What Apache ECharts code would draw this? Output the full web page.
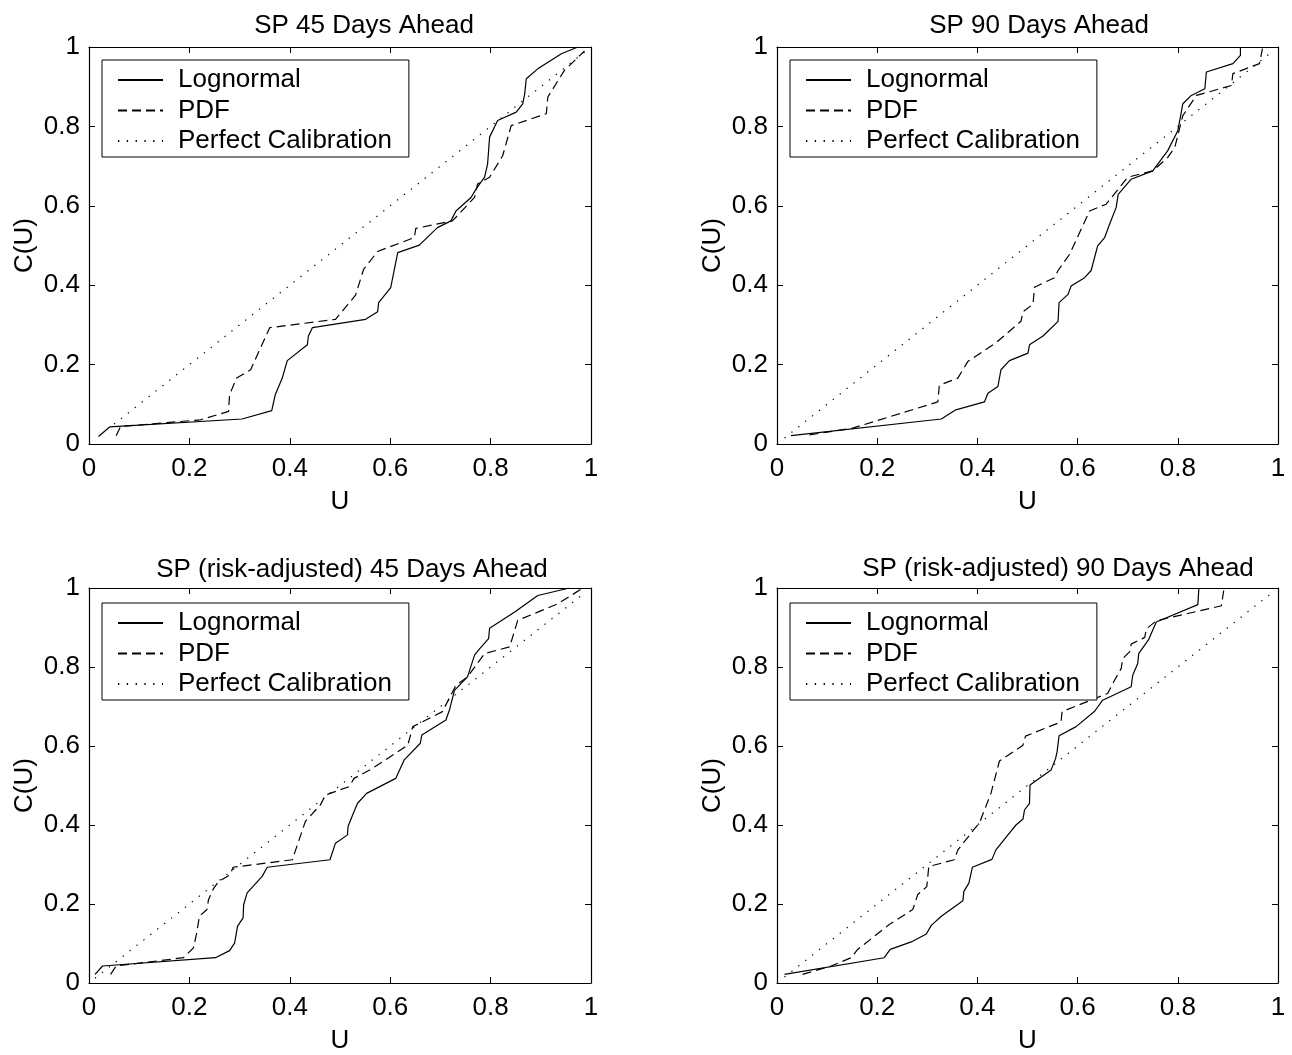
<!DOCTYPE html>
<html><head><meta charset="utf-8">
<script src="https://cdn.jsdelivr.net/npm/echarts/dist/echarts.min.js"></script>
<style>html,body{margin:0;padding:0;background:#fff}#c{width:1292px;height:1055px}</style>
</head><body><div id="c"></div>
<script>
const titles = ['SP 45 Days Ahead', 'SP 90 Days Ahead', 'SP (risk-adjusted) 45 Days Ahead', 'SP (risk-adjusted) 90 Days Ahead'];
const seriesNames = ['Lognormal', 'PDF', 'Perfect Calibration'];
const xAxisName = 'U';
const yAxisName = 'C(U)';
const tickStep = 0.2;

const lognormal45 = [[0.019,0.019],[0.041,0.043],[0.305,0.063],[0.364,0.084],[0.371,0.124],[0.385,0.166],[0.395,0.21],[0.435,0.25],[0.437,0.272],[0.445,0.293],[0.551,0.314],[0.575,0.333],[0.577,0.356],[0.601,0.394],[0.615,0.482],[0.658,0.501],[0.694,0.545],[0.721,0.562],[0.731,0.587],[0.761,0.621],[0.771,0.642],[0.788,0.672],[0.794,0.705],[0.798,0.773],[0.814,0.815],[0.851,0.836],[0.864,0.857],[0.868,0.882],[0.871,0.92],[0.894,0.945],[0.941,0.983],[0.974,1.0]];
const pdf45 = [[0.054,0.021],[0.063,0.044],[0.222,0.061],[0.278,0.082],[0.280,0.124],[0.294,0.166],[0.322,0.187],[0.360,0.293],[0.491,0.314],[0.531,0.375],[0.547,0.44],[0.575,0.485],[0.648,0.52],[0.651,0.543],[0.724,0.562],[0.768,0.621],[0.774,0.655],[0.798,0.672],[0.824,0.726],[0.841,0.802],[0.911,0.832],[0.914,0.874],[0.947,0.941],[0.987,0.99]];
const perfect45 = [[0.05,0.05],[0.99,0.99]];

const lognormal90 = [[0.028,0.021],[0.328,0.063],[0.357,0.086],[0.414,0.106],[0.421,0.128],[0.441,0.145],[0.447,0.187],[0.464,0.21],[0.501,0.229],[0.504,0.25],[0.531,0.272],[0.561,0.309],[0.563,0.356],[0.581,0.377],[0.587,0.398],[0.614,0.419],[0.627,0.437],[0.640,0.499],[0.654,0.52],[0.664,0.554],[0.677,0.596],[0.681,0.629],[0.707,0.667],[0.750,0.688],[0.780,0.739],[0.800,0.789],[0.810,0.857],[0.827,0.878],[0.854,0.895],[0.857,0.937],[0.910,0.958],[0.925,0.979],[0.925,1.0]];
const pdf90 = [[0.065,0.023],[0.151,0.04],[0.321,0.106],[0.324,0.148],[0.361,0.166],[0.381,0.208],[0.437,0.255],[0.487,0.309],[0.491,0.333],[0.511,0.352],[0.514,0.395],[0.554,0.419],[0.561,0.437],[0.584,0.478],[0.624,0.587],[0.657,0.604],[0.700,0.672],[0.750,0.688],[0.780,0.722],[0.794,0.747],[0.810,0.827],[0.837,0.878],[0.907,0.903],[0.910,0.933],[0.963,0.958],[0.969,0.996]];
const perfect90 = [[0.015,0.015],[0.983,0.983]];

const lognormalRA45 = [[0.012,0.022],[0.027,0.043],[0.252,0.064],[0.280,0.082],[0.290,0.101],[0.296,0.144],[0.307,0.165],[0.308,0.198],[0.315,0.228],[0.345,0.27],[0.355,0.293],[0.480,0.312],[0.491,0.354],[0.515,0.375],[0.516,0.396],[0.528,0.434],[0.535,0.455],[0.553,0.48],[0.611,0.518],[0.628,0.565],[0.660,0.607],[0.663,0.628],[0.711,0.666],[0.718,0.691],[0.728,0.741],[0.754,0.775],[0.768,0.83],[0.778,0.846],[0.796,0.872],[0.798,0.898],[0.848,0.939],[0.894,0.981],[0.957,1.0]];
const pdfRA45 = [[0.043,0.022],[0.054,0.043],[0.188,0.064],[0.208,0.089],[0.214,0.123],[0.220,0.169],[0.235,0.186],[0.238,0.211],[0.248,0.239],[0.258,0.257],[0.281,0.274],[0.287,0.293],[0.405,0.312],[0.431,0.409],[0.461,0.451],[0.471,0.476],[0.518,0.497],[0.528,0.518],[0.563,0.542],[0.635,0.602],[0.645,0.649],[0.704,0.687],[0.731,0.754],[0.754,0.775],[0.788,0.834],[0.838,0.851],[0.854,0.918],[0.934,0.96],[0.984,1.0]];
const perfectRA45 = [[0.012,0.012],[0.985,0.985]];

const lognormalRA90 = [[0.015,0.022],[0.214,0.064],[0.226,0.085],[0.268,0.104],[0.298,0.124],[0.308,0.146],[0.328,0.169],[0.371,0.208],[0.373,0.232],[0.383,0.253],[0.390,0.293],[0.429,0.313],[0.437,0.337],[0.461,0.375],[0.477,0.4],[0.491,0.415],[0.494,0.438],[0.504,0.455],[0.505,0.501],[0.547,0.539],[0.556,0.568],[0.559,0.585],[0.563,0.626],[0.597,0.649],[0.634,0.688],[0.650,0.716],[0.707,0.75],[0.710,0.779],[0.720,0.809],[0.722,0.834],[0.742,0.87],[0.757,0.914],[0.840,0.958],[0.842,0.998]];
const pdfRA90 = [[0.051,0.022],[0.108,0.043],[0.148,0.064],[0.161,0.085],[0.224,0.148],[0.271,0.186],[0.281,0.224],[0.299,0.244],[0.303,0.295],[0.354,0.312],[0.361,0.337],[0.394,0.39],[0.404,0.405],[0.427,0.48],[0.444,0.562],[0.491,0.602],[0.496,0.625],[0.567,0.661],[0.569,0.687],[0.660,0.733],[0.674,0.767],[0.687,0.796],[0.690,0.821],[0.704,0.839],[0.707,0.858],[0.734,0.875],[0.737,0.896],[0.757,0.917],[0.887,0.955],[0.892,0.997]];
const perfectRA90 = [[0.015,0.015],[0.987,0.987]];

const panels = [
  {log: lognormal45, pdf: pdf45, perf: perfect45},
  {log: lognormal90, pdf: pdf90, perf: perfect90},
  {log: lognormalRA45, pdf: pdfRA45, perf: perfectRA45},
  {log: lognormalRA90, pdf: pdfRA90, perf: perfectRA90}
];

const FONT = '"Liberation Sans", Arial, Helvetica, sans-serif';
const grids = [
  {left: 89, top: 47, width: 502, height: 397},
  {left: 777, top: 47, width: 501, height: 397},
  {left: 89, top: 588, width: 502, height: 397},
  {left: 777, top: 588, width: 501, height: 397}
];
const titlePos = [[364, 13], [1039, 13], [352, 557], [1058, 556]];
const legendPos = [[102, 60], [790, 60], [102, 603], [790, 603]];

const option = {
  backgroundColor: '#fff',
  animation: false,
  textStyle: {fontFamily: FONT, color: '#000'},
  title: titles.map((t, i) => ({
    text: t, left: titlePos[i][0], top: titlePos[i][1], textAlign: 'center', padding: 0,
    textStyle: {fontFamily: FONT, fontSize: 26, fontWeight: 'normal', color: '#000'}
  })),
  grid: grids.map(g => Object.assign({show: false, containLabel: false}, g)),
  legend: legendPos.map((p, i) => ({
    left: p[0], top: p[1], orient: 'vertical',
    data: seriesNames, selectedMode: false,
    borderColor: '#000', borderWidth: 1, borderRadius: 0, backgroundColor: '#fff',
    padding: [7, 17, 3, 15], itemGap: 4.5, itemWidth: 45, itemHeight: 14,
    itemStyle: {opacity: 0},
    textStyle: {fontFamily: FONT, fontSize: 26, color: '#000', lineHeight: 26, padding: [0, 0, 0, 10]}
  })),
  xAxis: [],
  yAxis: [],
  series: []
};

const axisBase = {
  type: 'value', min: 0, max: 1, interval: tickStep,
  axisLine: {show: true, onZero: false, lineStyle: {color: '#000', width: 1.2}},
  axisTick: {show: true, inside: true, length: 6, lineStyle: {color: '#000', width: 1}},
  splitLine: {show: false}
};

grids.forEach((g, i) => {
  option.xAxis.push(Object.assign({}, axisBase, {
    gridIndex: i, position: 'bottom',
    name: xAxisName, nameLocation: 'middle', nameGap: 45,
    nameTextStyle: {fontFamily: FONT, fontSize: 26, color: '#000'},
    axisLabel: {show: true, margin: 12, fontFamily: FONT, fontSize: 26, color: '#000'}
  }));
  option.xAxis.push(Object.assign({}, axisBase, {
    gridIndex: i, position: 'top', axisLabel: {show: false}
  }));
  option.yAxis.push(Object.assign({}, axisBase, {
    gridIndex: i, position: 'left',
    name: yAxisName, nameLocation: 'middle', nameGap: 51,
    nameTextStyle: {fontFamily: FONT, fontSize: 26, color: '#000'},
    axisLabel: {show: true, margin: 9, fontFamily: FONT, fontSize: 26, color: '#000'}
  }));
  option.yAxis.push(Object.assign({}, axisBase, {
    gridIndex: i, position: 'right', axisLabel: {show: false}
  }));
  const p = panels[i];
  const mk = (name, data, type) => ({
    name, type: 'line', data, xAxisIndex: 2 * i, yAxisIndex: 2 * i,
    symbol: 'none', showSymbol: false, clip: true,
    lineStyle: {color: '#000', width: 1.2, type},
    itemStyle: {color: '#000'}
  });
  option.series.push(mk(seriesNames[0], p.log, 'solid'));
  option.series.push(mk(seriesNames[1], p.pdf, [9, 5]));
  option.series.push(mk(seriesNames[2], p.perf, [1.3, 7.5]));
});

const chart = echarts.init(document.getElementById('c'), null, {renderer: 'canvas'});
chart.setOption(option);
</script>
</body></html>
